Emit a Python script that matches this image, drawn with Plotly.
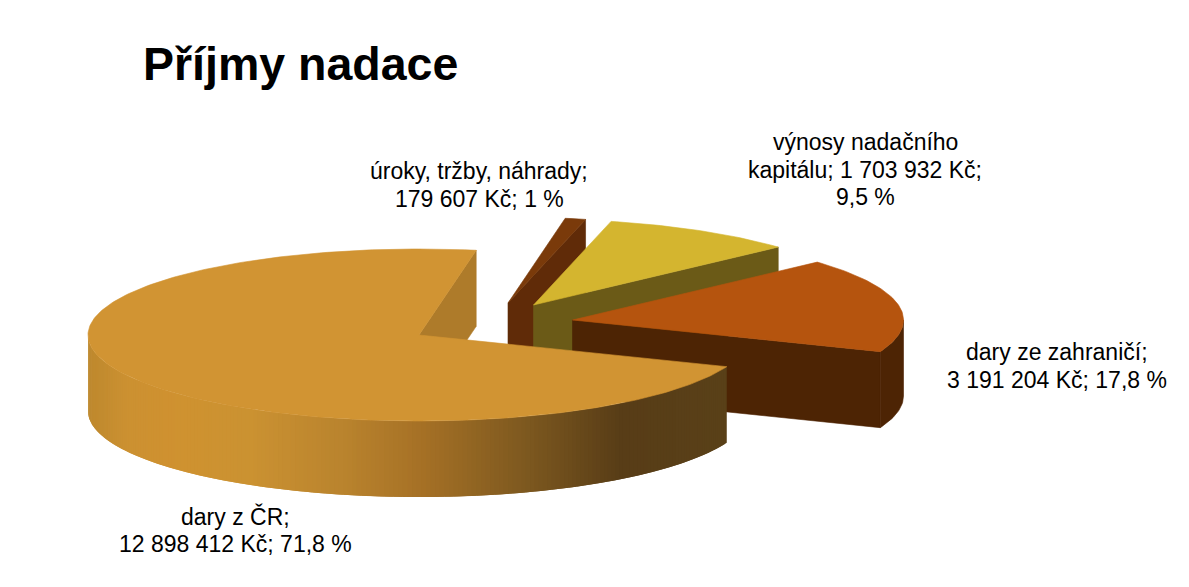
#! /usr/bin/python3

import math

import plotly.graph_objects as go

# slices, clockwise in the order of the chart
categories = ["dary z ČR", "úroky, tržby, náhrady", "výnosy nadačního kapitálu", "dary ze zahraničí"]
values = [12898412, 179607, 1703932, 3191204]
labels = [
    ["dary z ČR;", "12 898 412 Kč; 71,8 %"],
    ["úroky, tržby, náhrady;", "179 607 Kč; 1 %"],
    ["výnosy nadačního", "kapitálu; 1 703 932 Kč;", "9,5 %"],
    ["dary ze zahraničí;", "3 191 204 Kč; 17,8 %"],
]

# styling
TITLE = "Příjmy nadace"
FONT = "Liberation Sans, Arial, sans-serif"
TOP_COLORS = ["#d19433", "#7a3a0a", "#d4b52f", "#b5540e"]
SIDE_COLORS = [None, "#602b08", "#6b5a17", "#4d2404"]
WALL_COLORS = ["#ae7b2a", "#602b08", "#6b5a17", "#4d2404"]
LABEL_POS = [(235.5, 516), (479, 171), (865, 142), (1057, 352)]
LINE_HEIGHT = 27.5

# pie geometry, in screen pixels
RX = 331
RY = 86
DEPTH = 76
START_ANGLE = 111.6
CENTERS = [(419, 335), (508, 303), (533.5, 305), (572.5, 320)]

# the page keeps its 8px body margin, so the axes start there
PAGE_MARGIN = 8

# shading of the big slice's rim, left to right
RIM_STOPS = [
    (88, (190, 137, 46)),
    (125, (204, 145, 50)),
    (172, (208, 146, 48)),
    (250, (203, 146, 50)),
    (340, (186, 132, 46)),
    (420, (166, 113, 38)),
    (520, (127, 90, 32)),
    (620, (88, 61, 23)),
    (727, (90, 65, 25)),
]


def rim_color(x):
    for (x0, c0), (x1, c1) in zip(RIM_STOPS, RIM_STOPS[1:]):
        if x <= x1:
            t = max(0, (x - x0) / (x1 - x0))
            return "rgb(%d,%d,%d)" % tuple(a + (b - a) * t for a, b in zip(c0, c1))
    return "rgb(%d,%d,%d)" % RIM_STOPS[-1][1]


def edge(center, angle):
    a = math.radians(angle)
    return center[0] + RX * math.sin(a), center[1] - RY * math.cos(a)


def arc(center, a0, a1, step=1.0):
    n = max(2, int(abs(a1 - a0) / step) + 1)
    return [edge(center, a0 + (a1 - a0) * i / (n - 1)) for i in range(n)]


fig = go.Figure()


def add_poly(points, color, line_width=0.6):
    fig.add_trace(go.Scatter(
        x=[p[0] for p in points] + [points[0][0]],
        y=[p[1] for p in points] + [points[0][1]],
        mode="lines",
        fill="toself",
        fillcolor=color,
        line=dict(color=color, width=line_width),
        hoverinfo="skip",
        showlegend=False,
    ))


def drop(points):
    return [(x, y + DEPTH) for x, y in points]


total = sum(values)
spans = []
angle = START_ANGLE
for value in values:
    end = angle + value / total * 360
    spans.append((angle, end))
    angle = end if end < 360 else end - 360

# back slices first, the big one sits in front of everything
for i in [1, 2, 3, 0]:
    a0, a1 = spans[i]
    center = CENTERS[i]

    # cut face at the end of the slice
    outer = edge(center, a1)
    add_poly([center, outer, (outer[0], outer[1] + DEPTH), (center[0], center[1] + DEPTH)], WALL_COLORS[i])

    # outer rim, only the front half of the pie shows
    front0 = max(a0, 90)
    front1 = min(a1, 270)
    if front1 > front0:
        if SIDE_COLORS[i] is None:
            # strips overlap the next one so no seams show through
            strip = arc(center, front0, front1, 0.8)
            for p, q in zip(strip, strip[2:]):
                add_poly([p, q, (q[0], q[1] + DEPTH), (p[0], p[1] + DEPTH)], rim_color((p[0] + q[0]) / 2), 0)
        else:
            strip = arc(center, front0, front1)
            add_poly(strip + drop(strip)[::-1], SIDE_COLORS[i])

    add_poly([center] + arc(center, a0, a1), TOP_COLORS[i])

fig.add_annotation(
    x=141, y=64, text="<b>%s</b>" % TITLE, showarrow=False,
    xanchor="left", yanchor="middle",
    font=dict(family=FONT, size=46.5, color="#000000"),
)

for lines, pos in zip(labels, LABEL_POS):
    for n, line in enumerate(lines):
        fig.add_annotation(
            x=pos[0], y=pos[1] + n * LINE_HEIGHT, text=line, showarrow=False,
            xanchor="center", yanchor="middle",
            font=dict(family=FONT, size=23, color="#000000"),
        )

fig.update_xaxes(range=[PAGE_MARGIN, 1189], visible=False)
fig.update_yaxes(range=[587, PAGE_MARGIN], visible=False)
fig.update_layout(
    width=1189 - PAGE_MARGIN,
    height=587 - PAGE_MARGIN,
    margin=dict(l=0, r=0, t=0, b=0),
    paper_bgcolor="#ffffff",
    plot_bgcolor="#ffffff",
    showlegend=False,
)

fig.write_html("out.html")
